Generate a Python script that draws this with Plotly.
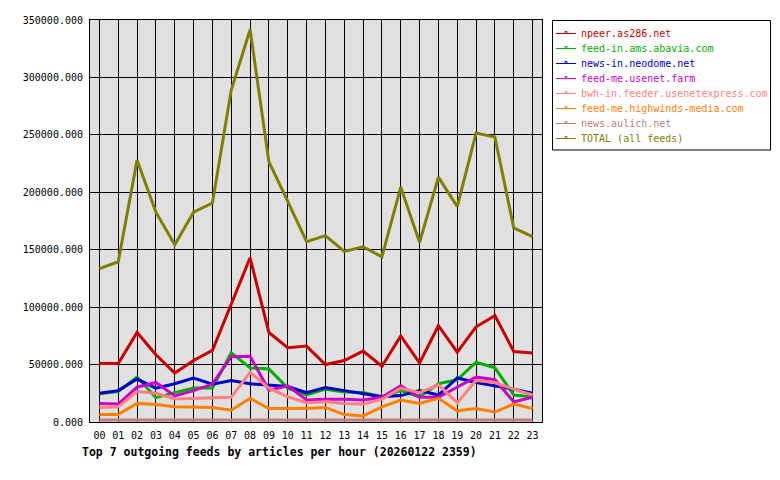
import plotly.graph_objects as go

hours = ["%02d" % h for h in range(24)]

npeer = [51000, 51000, 78000, 58500, 42600, 53500, 62300, 102000, 143000, 77900, 64700, 66100,
         50000, 53500, 61700, 48500, 75000, 51400, 83800, 60800, 82900, 92600, 61400, 60000]
abavia = [24500, 26500, 39200, 21200, 25600, 29500, 29500, 60300, 47100, 46200, 29500, 23500,
          28600, 26200, 25600, 22000, 27300, 22000, 33300, 36800, 52000, 47100, 23500, 22000]
neodome = [25000, 27300, 37400, 29500, 33300, 38300, 33000, 36200, 33300, 32400, 30900, 25600,
           30000, 27300, 24400, 22100, 23000, 27300, 23500, 38300, 34400, 31500, 28600, 25000]
usenetfarm = [16200, 15600, 30300, 34400, 22700, 27300, 33000, 56800, 57300, 27600, 31500, 19100,
              19800, 19800, 19100, 21500, 31500, 21500, 21500, 30300, 39200, 36800, 17500, 21500]
usenetexpress = [12700, 13200, 26500, 25000, 20000, 20600, 21500, 21500, 43200, 29500, 22000, 16800,
                 17600, 16200, 15600, 19800, 29500, 25600, 32400, 16800, 36200, 34400, 28600, 23500]
highwinds = [6500, 6500, 16200, 15300, 13200, 12700, 12700, 10300, 20600, 11700, 11700, 11700,
             12700, 6500, 5300, 13200, 19100, 16200, 20600, 9700, 11700, 8700, 15600, 11700]
aulich = [1800] * 24
total = [133600, 139500, 228000, 182700, 154400, 182700, 190600, 289000, 341500, 226600, 192000, 157000,
         162300, 148500, 152600, 143800, 204400, 156400, 213200, 187500, 251600, 248000, 169000, 161400]

names = ["npeer.as286.net", "feed-in.ams.abavia.com", "news-in.neodome.net", "feed-me.usenet.farm",
         "bwh-in.feeder.usenetexpress.com", "feed-me.highwinds-media.com", "news.aulich.net",
         "TOTAL (all feeds)"]
series = [npeer, abavia, neodome, usenetfarm, usenetexpress, highwinds, aulich, total]
colors = ["#cc0000", "#00b000", "#0000cc", "#cc00cc", "#ff8080", "#ff8000", "#c08080", "#808000"]

title = "Top 7 outgoing feeds by articles per hour (20260122 2359)"

FONT = "DejaVu Sans Mono"
W, H = 780, 480
L, R, T, B = 90, 542, 20, 422


def px_x(px):
    return (px - L) / (R - L)


def px_y(py):
    return (B - py) / (B - T)


fig = go.Figure()
for name, vals, col in zip(names, series, colors):
    fig.add_trace(go.Scatter(x=list(range(24)), y=vals, mode="lines", name=name,
                             line=dict(color=col, width=3), showlegend=False))

shapes = []
annotations = []
# legend box
shapes.append(dict(type="rect", xref="paper", yref="paper",
                   x0=px_x(552.5), x1=px_x(770.5), y0=px_y(20.5), y1=px_y(150),
                   line=dict(color="black", width=1), fillcolor="white", layer="above"))
for i, (name, col) in enumerate(zip(names, colors)):
    yy = 33.5 + 15 * i
    shapes.append(dict(type="line", xref="paper", yref="paper",
                       x0=px_x(556), x1=px_x(576), y0=px_y(yy), y1=px_y(yy),
                       line=dict(color=col, width=1), layer="above"))
    shapes.append(dict(type="rect", xref="paper", yref="paper",
                       x0=px_x(565), x1=px_x(567), y0=px_y(yy), y1=px_y(yy - 2),
                       line=dict(color=col, width=1), fillcolor="white", layer="above"))
    annotations.append(dict(text=name, xref="paper", yref="paper", x=px_x(579), y=px_y(yy),
                            xanchor="left", yanchor="middle", showarrow=False,
                            font=dict(family=FONT, size=10, color=col)))

annotations.append(dict(text="<b>" + title + "</b>", xref="paper", yref="paper",
                        x=px_x(80), y=px_y(452), xanchor="left", yanchor="middle",
                        showarrow=False, font=dict(family=FONT, size=11.5, color="black")))

fig.update_layout(
    width=W, height=H,
    margin=dict(l=L, r=W - R, t=T, b=H - B, pad=0),
    paper_bgcolor="white", plot_bgcolor="#e0e0e0",
    font=dict(family=FONT, size=10, color="black"),
    shapes=shapes, annotations=annotations,
    showlegend=False,
    xaxis=dict(range=[-0.5, 23.5], tickmode="array", tickvals=list(range(24)), ticktext=hours,
               showgrid=True, gridcolor="black", gridwidth=1, zeroline=False,
               showline=True, linecolor="black", linewidth=1, mirror=True,
               ticks="outside", ticklen=4, tickcolor="rgba(0,0,0,0)",
               tickfont=dict(family=FONT, size=10, color="black")),
    yaxis=dict(range=[0, 350000], tickmode="array", tickvals=list(range(0, 350001, 50000)),
               tickformat=".3f", showgrid=True, gridcolor="black", gridwidth=1, zeroline=False,
               showline=True, linecolor="black", linewidth=1, mirror=True,
               ticks="outside", ticklen=4, tickcolor="rgba(0,0,0,0)",
               tickfont=dict(family=FONT, size=10, color="black")),
)

fig.write_html("out.html")
